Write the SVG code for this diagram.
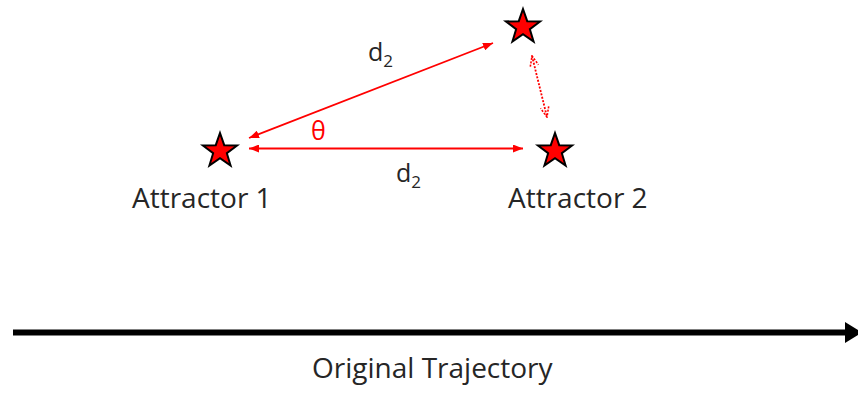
<svg xmlns="http://www.w3.org/2000/svg" width="858" height="394" viewBox="0 0 858 394">
<style>
.lbl{font-family:"Open Sans","Liberation Sans",sans-serif;fill:#262626}
.big{font-size:28px}
.d{font-size:25px}
.star{fill:#ff0000;stroke:#000;stroke-width:2;stroke-linejoin:miter}
.red{stroke:#ff0000;stroke-width:1.8;fill:none}
</style>
<defs>
<path id="starShape" class="star" d="M0,-18 L4.23,-5.82 L17.12,-5.56 L6.85,2.22 L10.58,14.56 L0,7.2 L-10.58,14.56 L-6.85,2.22 L-17.12,-5.56 L-4.23,-5.82 Z"/>
<marker id="ra" viewBox="0 0 10 8" refX="10" refY="4" markerWidth="10" markerHeight="8" markerUnits="userSpaceOnUse" orient="auto-start-reverse">
<path d="M0,0 L10,4 L0,8 Z" fill="#ff0000"/>
</marker>
<marker id="rd" viewBox="0 0 12 10" refX="11" refY="5" markerWidth="12" markerHeight="10" markerUnits="userSpaceOnUse" orient="auto-start-reverse">
<path d="M1,0.8 L11,5 L1,9.2" fill="none" stroke="#ff0000" stroke-width="1.6" stroke-dasharray="2,1.5"/>
</marker>
</defs>
<g id="attractor1">
<use href="#starShape" x="220" y="151"/>
<text class="lbl big" x="132" y="208">Attractor 1</text>
</g>
<g id="attractor2">
<use href="#starShape" x="555" y="151"/>
<text class="lbl big" x="508" y="208">Attractor 2</text>
</g>
<g id="attractor2moved">
<use href="#starShape" x="523" y="27"/>
</g>
<g id="trajectory">
<line x1="13" y1="332.5" x2="846" y2="332.5" stroke="#000" stroke-width="6"/>
<path d="M845,322 L862,332.5 L845,343 Z" fill="#000"/>
<text class="lbl big" x="312" y="378">Original Trajectory</text>
</g>
<g id="connectors">
<line class="red" x1="249" y1="148.5" x2="523" y2="148.5" marker-start="url(#ra)" marker-end="url(#ra)"/>
<line class="red" x1="249" y1="138" x2="493" y2="43" marker-start="url(#ra)" marker-end="url(#ra)"/>
<line class="red" x1="532" y1="56" x2="547" y2="117" stroke-width="2" stroke-dasharray="2,1.5" marker-start="url(#rd)" marker-end="url(#rd)"/>
</g>
<g id="labels">
<text class="lbl d" x="368" y="61">d<tspan font-size="17" dy="6">2</tspan></text>
<text class="lbl d" x="396" y="182">d<tspan font-size="17" dy="6">2</tspan></text>
<text x="311" y="140" font-family="Open Sans, Liberation Sans, sans-serif" font-size="25" fill="#ff0000">θ</text>
</g>
</svg>
